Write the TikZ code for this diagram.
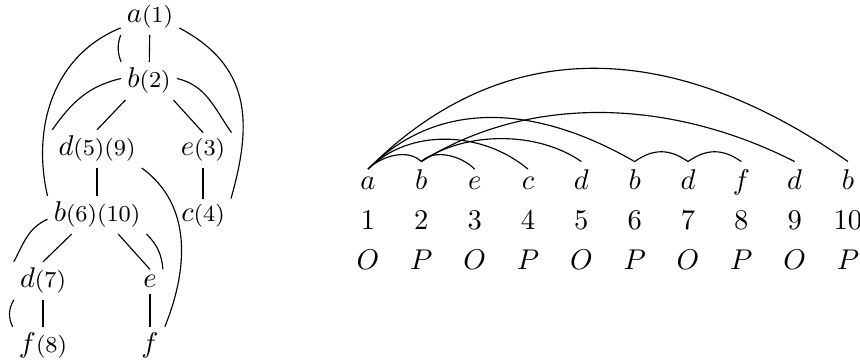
\documentclass[tikz,border=0pt]{standalone}
\usepackage{amsmath,amssymb}
\usepackage{tikz}
\usetikzlibrary{positioning, calc}

\newcommand{\treelab}[2]{$#1${\footnotesize#2}}

\begin{document}
\begin{tikzpicture}[
  x=0.35pt, y=0.35pt,
  tnode/.style={anchor=base, inner sep=2pt},
  snode/.style={anchor=base, inner sep=2.8pt},
]
  \useasboundingbox (0,0) rectangle (860,360);

  % strategy tree
  \node[tnode] (a1)   at (150,337) {\treelab{a}{(1)}};
  \node[tnode] (b2)   at (149,272) {\treelab{b}{(2)}};
  \node[tnode] (d59)  at (97,204)  {\treelab{d}{(5)(9)}};
  \node[tnode] (e3)   at (203,204) {\treelab{e}{(3)}};
  \node[tnode] (b610) at (97,138)  {\treelab{b}{(6)(10)}};
  \node[tnode] (c4)   at (203,138) {\treelab{c}{(4)}};
  \node[tnode] (d7)   at (43,72)   {\treelab{d}{(7)}};
  \node[tnode] (e)    at (150,72)  {$e$};
  \node[tnode] (f8)   at (43,7)    {\treelab{f}{(8)}};
  \node[tnode] (f)    at (150,7)   {$f$};

  \draw (a1) -- (b2);
  \draw (b2.-141) -- (d59.north);
  \draw (b2.-38) -- (e3.north);
  \draw (d59) -- (b610);
  \draw (e3) -- (c4);
  \draw (b610.-143) -- (d7.north);
  \draw (b610.-42) -- (e.north);
  \draw (d7) -- (f8);
  \draw (e) -- (f);

  % pointers in the tree
  \draw (a1.south west) to[bend right=20] (b2.north west);
  \draw (a1.-160) to[out=202, in=103] (b610.north west);
  \draw (a1.-20) to[out=-28, in=74, looseness=1.15] (c4.north east);
  \draw (b2.175) to[out=193, in=55] (d59.north west);
  \draw (b2.5) to[out=-13, in=125] (e3.north east);
  \draw (b610.-175) to[out=204, in=62] (d7.north west);
  \draw (d7.south west) to[bend right=28] (f8.north west);
  \draw (b610.south east) to[bend left=20] (e.north east);
  \draw (d59.south east) to[out=-36, in=68] (f.north east);

  % play as a sequence
  \foreach \m [count=\i] in {a,b,e,c,d,b,d,f,d,b}
    \node[snode] (s\i) at ({368+53.33*(\i-1)},170) {$\m$};
  \foreach \i in {1,...,10}
    \node[snode] (n\i) at ({368+53.33*(\i-1)},130) {\i};
  \foreach \q [count=\i] in {O,P,O,P,O,P,O,P,O,P}
    \node[snode] (p\i) at ({368+53.33*(\i-1)},90) {$\q$};

  \foreach \u/\v/\ao/\ai/\dd in {1/2/45/135/6.6, 2/3/45/135/6.6,
      1/4/45/140/20.7, 2/5/35/145/18.7, 1/6/45/150/37,
      6/7/35/145/8, 7/8/35/145/8, 2/9/32/153/46.5, 1/10/45/145/70.7}
    \draw (s\u.north) to[out=\ao, in=\ai, distance=\dd pt] (s\v.north);
\end{tikzpicture}
\end{document}
